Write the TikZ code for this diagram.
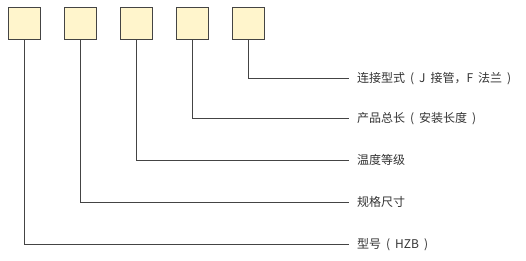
\documentclass[tikz,border=0pt]{standalone}
\usepackage{fontspec}
\newfontfamily\cjk[WordSpace=1.85]{Noto Sans CJK SC}
\definecolor{boxfill}{HTML}{FFF5CC}
\definecolor{linecol}{HTML}{444444}
\definecolor{txtcol}{HTML}{333333}
\begin{document}
\begin{tikzpicture}[x=1pt,y=1pt,
  codebox/.style={draw=linecol, fill=boxfill, line width=0.9pt, minimum width=32pt, minimum height=32pt, inner sep=0pt},
  lead/.style={draw=linecol, line width=0.9pt},
  lbl/.style={anchor=west, inner sep=0pt, text=txtcol, font=\cjk\fontsize{12}{14}\selectfont}]
\useasboundingbox (0,0) rectangle (526,261);
% boxes
\node[codebox] (b1) at (24.3,238) {};
\node[codebox] (b2) at (80.5,238) {};
\node[codebox] (b3) at (136.5,238) {};
\node[codebox] (b4) at (192.5,238) {};
\node[codebox] (b5) at (248.5,238) {};
% labels
\node[lbl] (l5) at (357,261-78.5) {连接型式 ( J 接管，F 法兰 )};
\node[lbl] (l4) at (357,261-118.7) {产品总长 ( 安装长度 )};
\node[lbl] (l3) at (357,261-160.3) {温度等级};
\node[lbl] (l2) at (357,261-202.3) {规格尺寸};
\node[lbl] (l1) at (357,261-244.3) {型号 ( HZB )};
% line ends
\coordinate (e5) at (349,261-78.5);
\coordinate (e4) at (349,261-118.7);
\coordinate (e3) at (349,261-160.3);
\coordinate (e2) at (349,261-202.3);
\coordinate (e1) at (349,261-244.3);
\foreach \i in {1,...,5} {
  \draw[lead] (b\i.south) |- (e\i);
}
\end{tikzpicture}
\end{document}
